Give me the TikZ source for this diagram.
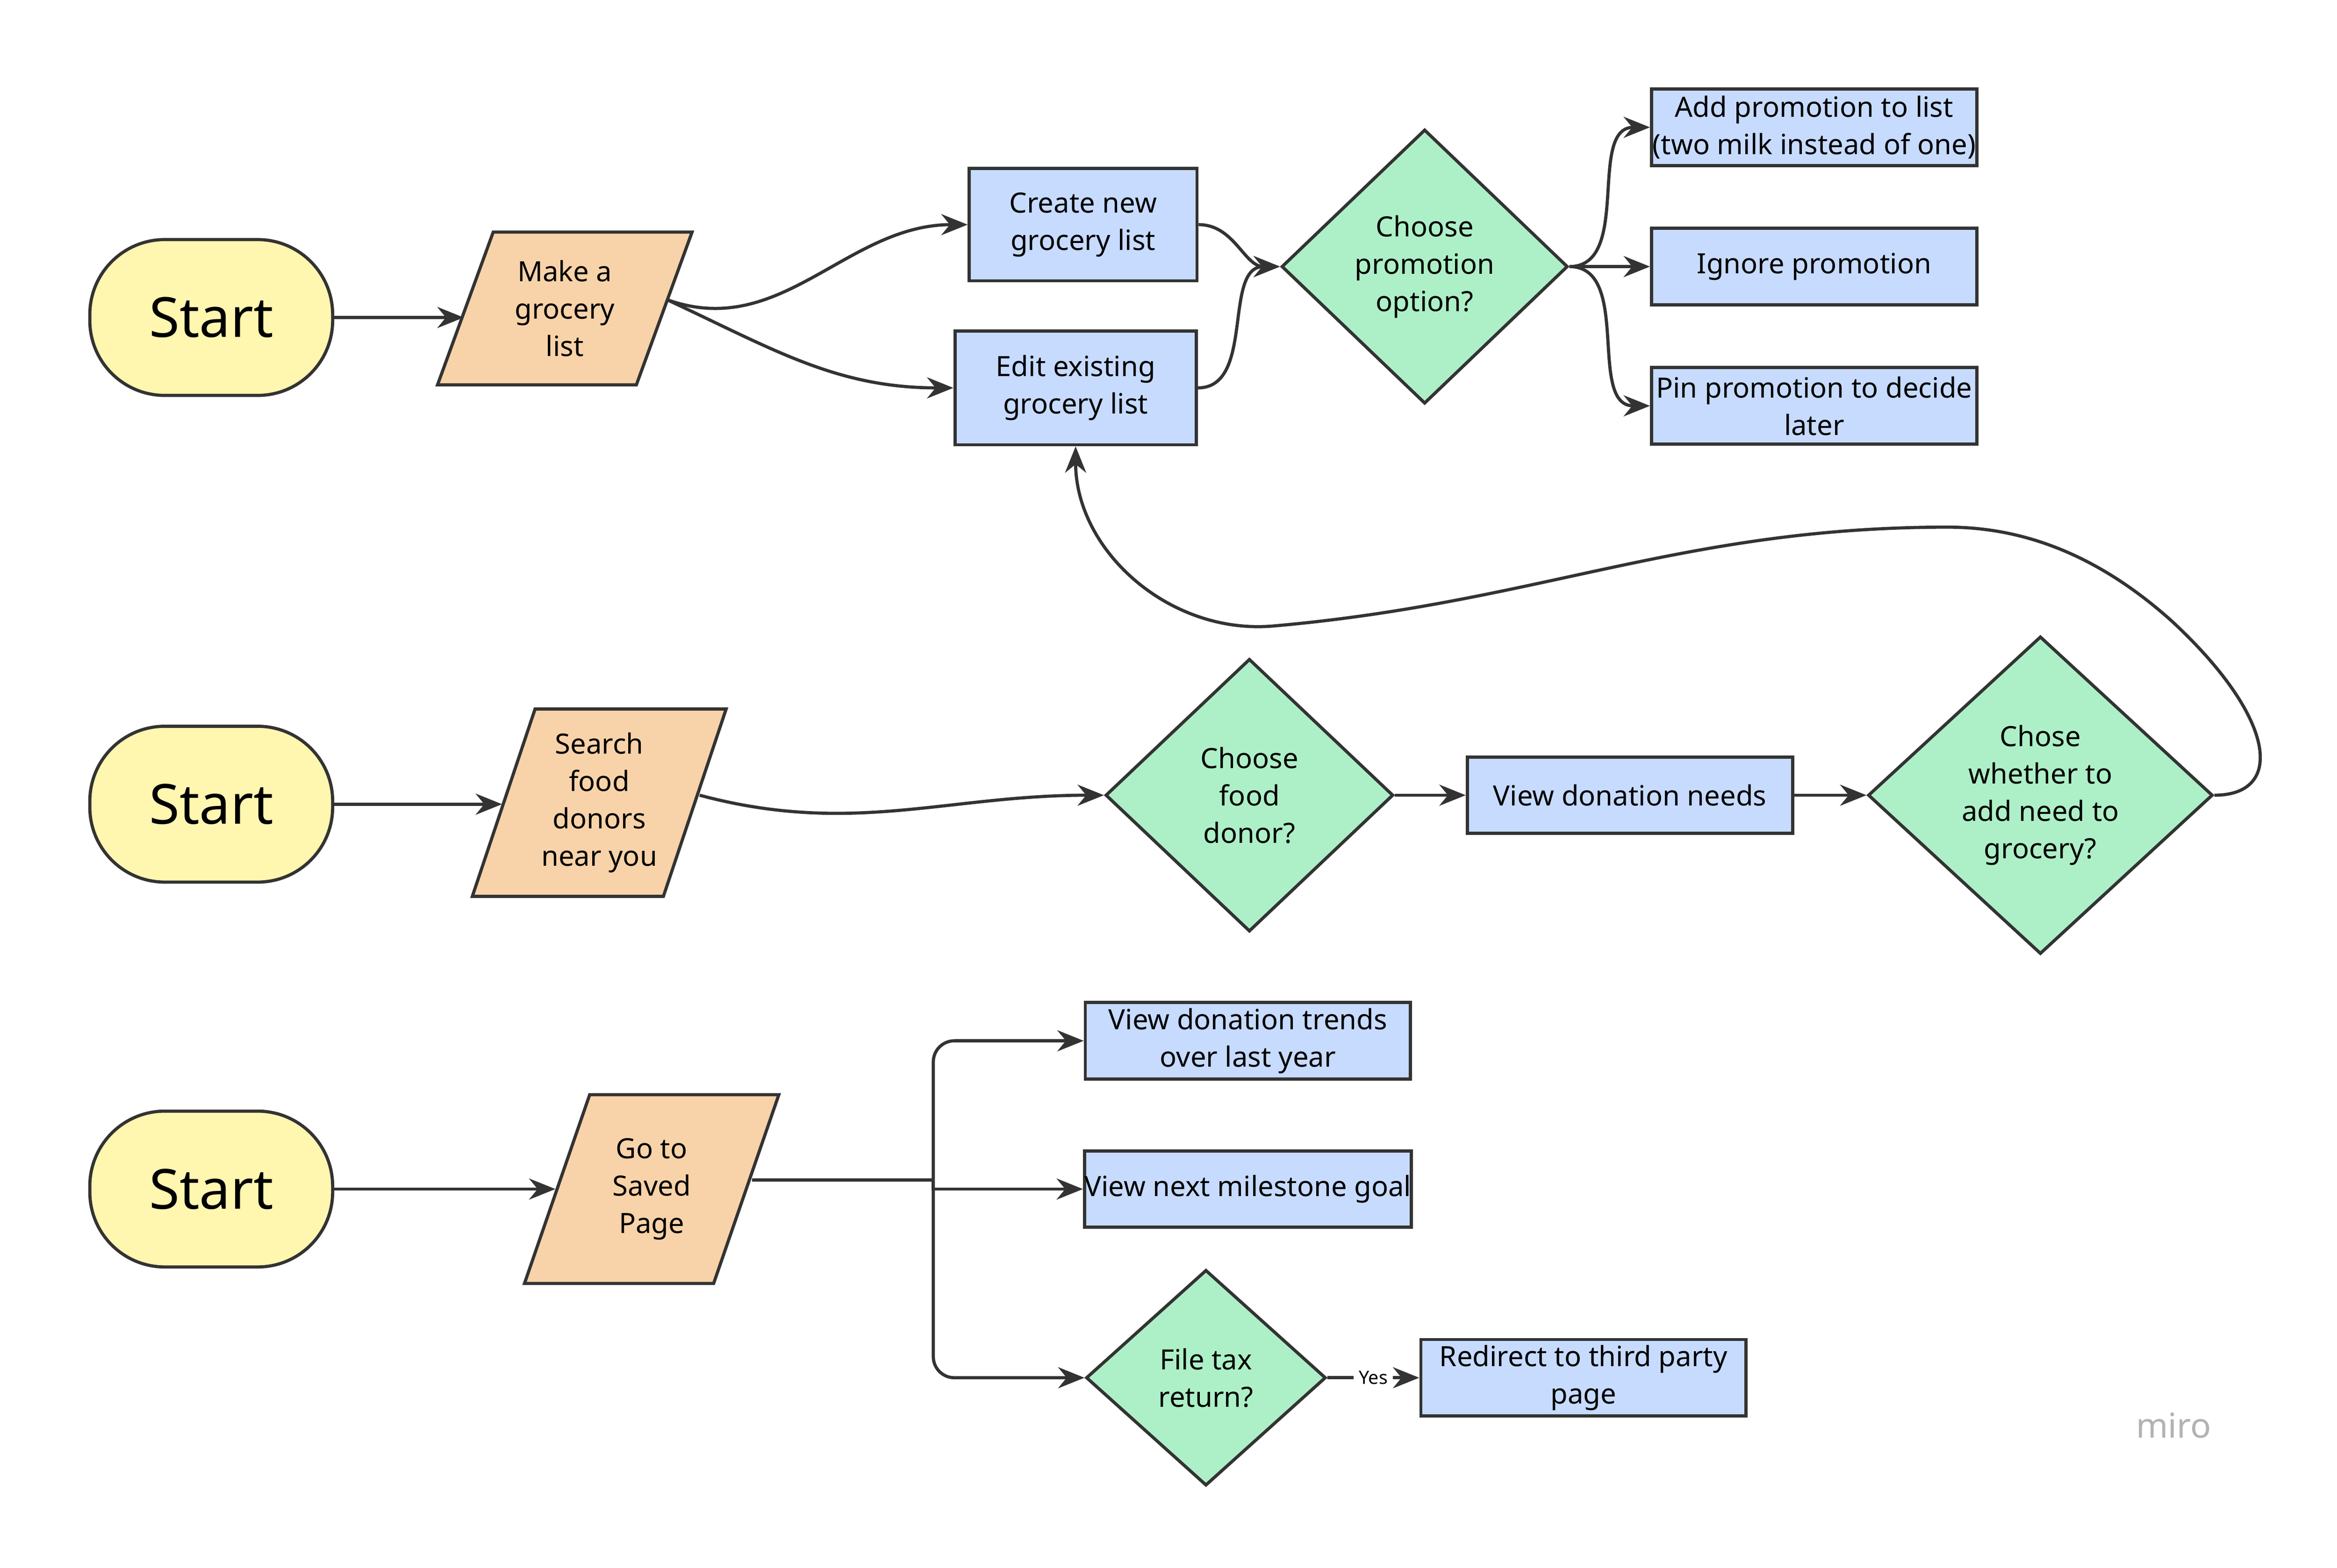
\documentclass[tikz,border=0pt]{standalone}
\usepackage{fontspec}
\setmainfont{Noto Sans}
\usetikzlibrary{shapes.geometric,arrows.meta}
\definecolor{startcol}{HTML}{FFF6B0}
\definecolor{datacol}{HTML}{F8D3A9}
\definecolor{stepcol}{HTML}{C7DBFF}
\definecolor{askcol}{HTML}{ADF0C7}
\definecolor{linecol}{HTML}{333333}

\begin{document}
\begin{tikzpicture}[x=0.01cm,y=-0.01cm,
	every node/.style={font=\fontsize{5.3}{7.1}\selectfont, text=black, align=center, inner sep=0pt},
	startbox/.style={draw=linecol, semithick, fill=startcol, rounded corners=0.5cm, minimum width=1.62cm, minimum height=1.04cm, font=\fontsize{10.5}{12}\selectfont},
	databox/.style={draw=linecol, semithick, fill=datacol, trapezium, trapezium left angle=68, trapezium right angle=112, trapezium stretches=true, minimum width=1.7cm},
	stepbox/.style={draw=linecol, semithick, fill=stepcol, minimum width=2.17cm, minimum height=0.51cm},
	askbox/.style={draw=linecol, semithick, fill=askcol, diamond, aspect=1.05},
	link/.style={draw=linecol, semithick, -{Stealth[length=5pt,width=4pt]}}]

	\useasboundingbox (0,0) rectangle (1560,1047);

	% first row
	\node[startbox] (start1) at (141,212) {Start};
	\node[databox, minimum height=1.02cm] (make) at (377,206) {Make a\\grocery\\list};
	\node[stepbox, minimum width=1.52cm, minimum height=0.75cm] (create) at (723,150) {Create new\\grocery list};
	\node[stepbox, minimum width=1.61cm, minimum height=0.76cm] (edit) at (718,259) {Edit existing\\grocery list};
	\node[askbox, minimum width=1.91cm, minimum height=1.83cm] (promo) at (951,178) {Choose\\promotion\\option?};
	\node[stepbox] (addpromo) at (1211,85) {Add promotion to list\\(two milk instead of one)};
	\node[stepbox] (ignore) at (1211,178) {Ignore promotion};
	\node[stepbox] (pin) at (1211,271) {Pin promotion to decide\\later};

	\draw[link] (start1.east) -- (make.west |- start1.east);
	\draw[link] (445,200) coordinate (makeout) to[out=-20,in=180] (create.west);
	\draw[link] (makeout) to[out=-25,in=180] (edit.west);
	\draw[link] (create.east) to[out=0,in=180] (promo.west);
	\draw[link] (edit.east) to[out=0,in=180] (promo.west);
	\draw[link] (promo.east) to[out=0,in=180] (addpromo.west);
	\draw[link] (promo.east) -- (ignore.west);
	\draw[link] (promo.east) to[out=0,in=180] (pin.west);

	% second row
	\node[startbox] (start2) at (141,537) {Start};
	\node[databox, minimum height=1.25cm] (search) at (400,536) {Search\\food\\donors\\near you};
	\node[askbox, minimum width=1.92cm, minimum height=1.82cm] (donor) at (834,531) {Choose\\food\\donor?};
	\node[stepbox] (needs) at (1088,531) {View donation needs};
	\node[askbox, minimum width=2.3cm, minimum height=2.12cm] (addneed) at (1362,531) {Chose\\whether to\\add need to\\grocery?};
	\coordinate (looptop) at (1300,352);
	\coordinate (looplow) at (850,418);

	\draw[link] (start2.east) -- (search.west |- start2.east);
	\draw[link] (467,531) to[out=-15,in=180] (donor.west);
	\draw[link] (donor.east) -- (needs.west);
	\draw[link] (needs.east) -- (addneed.west);
	\draw[link] (addneed.east) .. controls (1525,531) and (1520,480) .. (1450,415) .. controls (1400,370) and (1350,352) .. (looptop) to[out=180,in=5] (looplow) to[out=185,in=-90] (edit.south);

	% third row
	\node[startbox] (start3) at (141,794) {Start};
	\node[databox, minimum height=1.26cm] (saved) at (435,794) {Go to\\Saved\\Page};
	\node[stepbox] (trends) at (833,695) {View donation trends\\over last year};
	\node[stepbox] (milestone) at (833,794) {View next milestone goal};
	\node[askbox, minimum width=1.6cm, minimum height=1.44cm] (tax) at (805,920) {File tax\\return?};
	\node[stepbox] (redirect) at (1057,920) {Redirect to third party\\page};
	\coordinate (fork) at (623,788);

	\draw[link] (start3.east) -- (saved.west |- start3.east);
	\draw[semithick, draw=linecol] (502,788) -- (fork);
	\draw[link, rounded corners=4pt] (fork) |- (trends.west);
	\draw[link] (fork) |- (milestone.west);
	\draw[link, rounded corners=4pt] (fork) |- (tax.west);
	\draw[link] (tax.east) -- node[fill=white, inner sep=1pt, font=\fontsize{3.5}{4}\selectfont] {Yes} (redirect.west);

	\node[text=black!30, font=\fontsize{6.5}{8}\selectfont\bfseries] (brand) at (1451,952) {miro};

\end{tikzpicture}
\end{document}
